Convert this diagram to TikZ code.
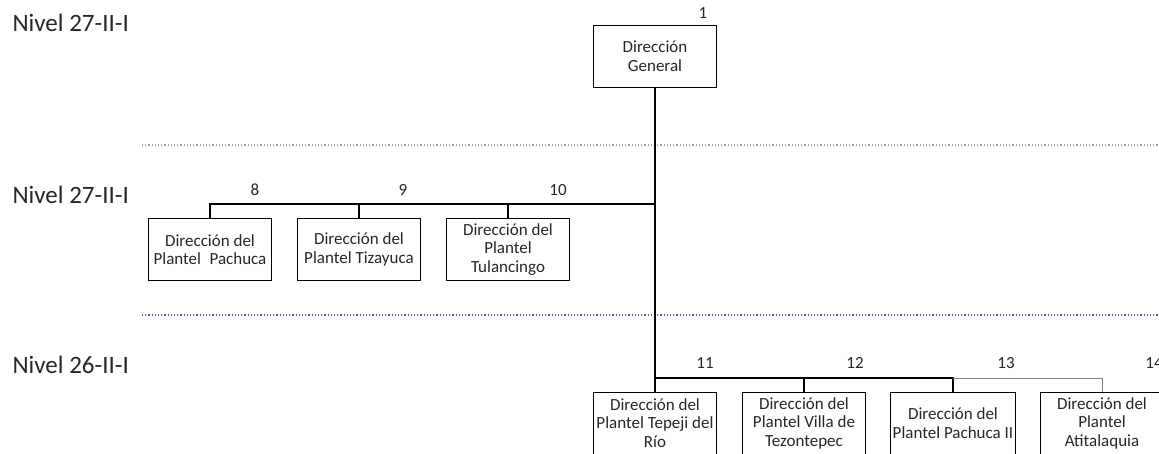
\documentclass[tikz,border=0pt]{standalone}
\usepackage{fontspec}
\setmainfont{Carlito}
\usepackage{color}
\usepackage{tikz}
\usetikzlibrary{positioning}
\definecolor{sepgray}{RGB}{160,160,160}
\definecolor{sepblue}{RGB}{80,100,165}

\begin{document}
\begin{tikzpicture}[x=1pt,y=-1pt,node distance=149pt,line width=1.1pt,
    unit/.style={rectangle,draw,line width=1pt,minimum width=123pt,minimum height=62pt,inner sep=2pt,align=center,text=black!85,font=\fontsize{17}{18.5}\selectfont},
    num/.style={inner sep=0pt,text=black!85,font=\fontsize{17}{18.5}\selectfont},
    level/.style={inner sep=0pt,anchor=base west,text=black!85,font=\fontsize{25}{28}\selectfont},
    elbow/.style={to path={-| (\tikztotarget)}},
    sep/.style={dotted,line width=1.2pt}]
    \useasboundingbox (0,0) rectangle (1159,453);
    \node[level] (lv1) at (12,31) {Nivel 27-II-I};
    \node[level] (lv2) at (12,203) {Nivel 27-II-I};
    \node[level] (lv3) at (12,373) {Nivel 26-II-I};
    \draw[sep,sepgray] (142,145) -- (1159,145);
    \draw[sep,sepblue] (142,315) -- (1159,315);
    \node[unit] (dg) at (655,56) {Dirección\\General};
    \node[unit] (pach) at (210,249.5) {Dirección del\\Plantel\enspace Pachuca};
    \node[unit] (tiza) [right of=pach] {Dirección del\\Plantel Tizayuca};
    \node[unit] (tula) [right of=tiza] {Dirección del\\Plantel\\Tulancingo};
    \node[unit] (tepe) at (655,423) {Dirección del\\Plantel Tepeji del\\Río};
    \node[unit] (villa) [right of=tepe] {Dirección del\\Plantel Villa de\\Tezontepec};
    \node[unit] (pachii) [right of=villa] {Dirección del\\Plantel Pachuca II};
    \node[unit] (atit) [right of=pachii] {Dirección del\\Plantel\\Atitalaquia};
    \node[num] (n1) at (703,13) {1};
    \node[num] (n8) at (255,190) {8};
    \node[num] (n9) at (403,190) {9};
    \node[num] (n10) at (558,190) {10};
    \node[num] (n11) at (705,363) {11};
    \node[num] (n12) at (855,363) {12};
    \node[num] (n13) at (1006,363) {13};
    \node[num] (n14) at (1154,363) {14};
    \coordinate (j2) at (655,204);
    \coordinate (j3) at (655,378);
    \coordinate (k3) at (pachii.north |- j3);
    \path
    (dg) edge (tepe)
    (j2) edge[elbow] (pach.north)
         edge[elbow] (tiza.north)
         edge[elbow] (tula.north)
    (j3) edge[elbow] (villa.north)
         edge[elbow] (pachii.north);
    \draw[gray,line width=0.7pt] (k3) -| (atit.north);
\end{tikzpicture}
\end{document}
